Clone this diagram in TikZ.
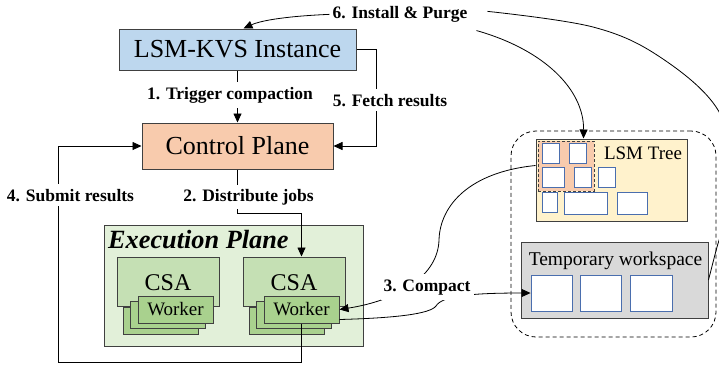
\documentclass[tikz,border=0pt]{standalone}
\usepackage{fontspec}
\setmainfont{Liberation Serif}
\usetikzlibrary{arrows.meta,calc}

\definecolor{kvsblue}{HTML}{BDD7EE}
\definecolor{cppeach}{HTML}{F8CBAD}
\definecolor{execgreen}{HTML}{E2F0D9}
\definecolor{csagreen}{HTML}{C5E0B4}
\definecolor{workgreen}{HTML}{A9D18E}
\definecolor{treeyellow}{HTML}{FFF2CC}
\definecolor{wsgray}{HTML}{D9D9D9}
\definecolor{edgegray}{HTML}{404040}
\definecolor{blockblue}{HTML}{4A6EAE}

\begin{document}
\begin{tikzpicture}[x=1pt,y=-1pt,
  box/.style={draw=edgegray, line width=1pt, inner sep=0pt},
  bigtext/.style={font=\fontsize{26}{30}\selectfont},
  csatext/.style={font=\fontsize{24}{28}\selectfont},
  smalltext/.style={font=\fontsize{19}{22}\selectfont},
  workerbox/.style={box, fill=workgreen, minimum width=75pt, minimum height=27pt,
    font=\fontsize{19}{22}\selectfont},
  block/.style={draw=blockblue, fill=white, line width=0.9pt, inner sep=0pt},
  conn/.style={draw=black, line width=0.8pt, -{Triangle[length=9pt,width=8pt]}},
  wire/.style={draw=black, line width=0.8pt},
  steplabel/.style={font=\fontsize{17.5}{20}\selectfont\bfseries, fill=white,
    inner xsep=3pt, inner ysep=5pt, anchor=base}
]
\useasboundingbox (0,0) rectangle (719,368);
\clip (0,0) rectangle (719,368);

% --- left column: instance and control plane
\node[box, fill=kvsblue, minimum width=237pt, minimum height=41pt, bigtext]
  (lsm) at (237.5,49.5) {LSM-KVS Instance};
\node[box, fill=cppeach, minimum width=191pt, minimum height=46pt, bigtext]
  (cp) at (237.5,146) {Control Plane};

% --- execution plane with two CSAs and their worker stacks
\node[box, fill=execgreen, minimum width=259pt, minimum height=121pt]
  (exec) at (233.5,285.5) {};
\node[anchor=base west, inner sep=0pt,
  font=\fontsize{26.3}{30}\selectfont\bfseries\itshape]
  (exectitle) at (108,248) {Execution Plane};

\node[box, fill=csagreen, minimum width=102pt, minimum height=49pt] (csaL) at (168,281.5) {};
\node[box, fill=csagreen, minimum width=102pt, minimum height=49pt] (csaR) at (294,281.5) {};
\node[csatext, anchor=base, inner sep=0pt] (csaLtext) at (168,290) {CSA};
\node[csatext, anchor=base, inner sep=0pt] (csaRtext) at (294,290) {CSA};

\node[workerbox] (wL3) at (160.5,320.5) {};
\node[workerbox] (wL2) at (168,315) {};
\node[workerbox] (wL)  at (175.5,309.5) {Worker};
\node[workerbox] (wR3) at (286.5,320.5) {};
\node[workerbox] (wR2) at (294,315) {};
\node[workerbox] (wR)  at (301.5,309.5) {Worker};

% --- storage side: LSM tree and temporary workspace
\node[draw=black, line width=0.8pt, dash pattern=on 4pt off 3pt, rounded corners=25pt,
  minimum width=205pt, minimum height=206pt, inner sep=0pt] (store) at (613.5,234) {};

\node[box, fill=treeyellow, minimum width=151pt, minimum height=82pt] (tree) at (611.5,180) {};
\node[draw=edgegray, line width=0.9pt, dash pattern=on 3pt off 2pt, fill=cppeach,
  minimum width=56pt, minimum height=50pt, inner sep=0pt] (picked) at (566,166) {};
\node[smalltext, anchor=base, inner sep=0pt] (treetext) at (643,159) {LSM Tree};

\node[block, minimum width=17pt, minimum height=20pt] (b1) at (550.5,153) {};
\node[block, minimum width=17pt, minimum height=20pt] (b2) at (577.5,153) {};
\node[block, minimum width=22pt, minimum height=20pt] (b3) at (553,177) {};
\node[block, minimum width=17pt, minimum height=20pt] (b4) at (582.5,177) {};
\node[block, minimum width=17pt, minimum height=20pt] (b5) at (606.5,177) {};
\node[block, minimum width=15pt, minimum height=20pt] (b6) at (549.5,202) {};
\node[block, minimum width=43pt, minimum height=22pt] (b7) at (585.5,203) {};
\node[block, minimum width=30pt, minimum height=22pt] (b8) at (632,203) {};

\node[box, fill=wsgray, minimum width=187pt, minimum height=76pt] (ws) at (614.5,280) {};
\node[font=\fontsize{19.5}{22}\selectfont, anchor=base, inner sep=0pt]
  (wstext) at (615.5,265) {Temporary workspace};
\node[block, minimum width=41pt, minimum height=36pt] (w1) at (551.5,293) {};
\node[block, minimum width=41pt, minimum height=36pt] (w2) at (600.5,293) {};
\node[block, minimum width=42pt, minimum height=36pt] (w3) at (651,293) {};

% --- step labels
\node[steplabel, fill=none] (install) at (400,18.5) {6. Install \& Purge};

% --- connectors
\draw[conn] (lsm.south) -- (cp.north);
\draw[conn] (lsm.east) -| ($(cp.east)+(43,0)$) -- (cp.east);
\draw[conn] (cp.south) -- ++(0,44) -| (wR.center |- csaR.north);
\draw[conn] (wR.south) |- (58,362) |- (cp.west);

\draw[conn] (install.west) .. controls (290,16) and (262,20) .. ($(lsm.north)+(6,0)$);
\draw[conn] ($(install.south east)+(6,3)$) .. controls (545,50) and (584,90)
  .. ($(tree.north west)+(48,0)$);
\coordinate (purgestart) at ($(install.east)+(17,-3)$);
\draw[wire] plot[smooth, tension=0.6] coordinates
  {(purgestart) (593,27) (660,57) (718,110) (735,180) (717,247) (ws.east)};

\draw[conn] ($(tree.north west)+(0,27)$) .. controls (470,172) and (440,205) .. (439,240)
  .. controls (438,275) and (400,300) .. (wR.east);
\draw[conn] ($(wR.south east)+(0,-4)$) .. controls (395,318) and (430,314) .. (436,306)
  .. controls (442,296) and (470,293) .. (w1.west);

% --- labels laid over the connectors
\node[steplabel] (trigger) at (230,99.5) {1. Trigger compaction};
\node[steplabel] (fetch) at (390,106) {5. Fetch results};
\node[steplabel] (submit) at (70.5,201) {4. Submit results};
\node[steplabel, inner ysep=4pt] (distribute) at (248.5,201) {2. Distribute jobs};
\node[steplabel] (compact) at (427,291) {3. Compact};
\end{tikzpicture}
\end{document}
